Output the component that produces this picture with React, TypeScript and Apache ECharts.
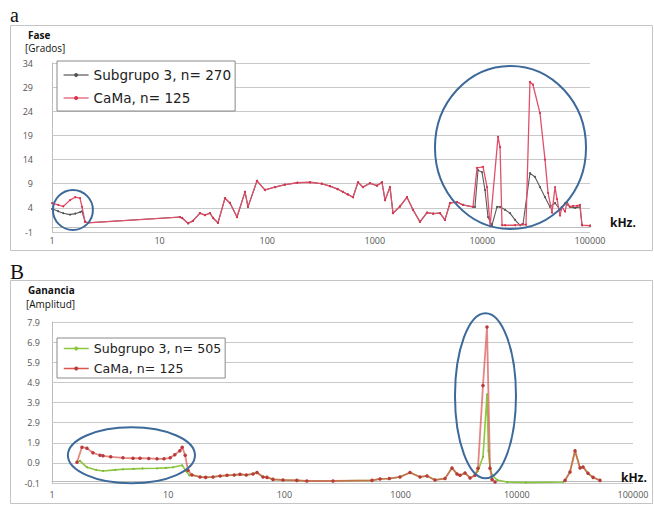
import React, { useEffect, useRef } from 'react';
import * as echarts from 'echarts';

// ---------- Panel a: Fase [Grados] ----------
const faseSubgrupoFreq = [1, 1.14, 1.27, 1.47, 1.64, 1.82, 1.9, 2.03, 2.16, 15.5, 16.2, 18.4, 20.4, 23.7, 26.4, 29.4, 31.4, 34.9, 40.5, 45.1, 52.4, 62.2, 66.3, 80.4, 95.4, 118, 146, 190, 250, 320, 384, 450, 506, 560, 627, 698, 777, 902, 1047, 1166, 1245, 1384, 1476, 1714, 1991, 2265, 2631, 3056, 3476, 4037, 4488, 5000, 5808, 6607, 8180, 8532, 9100, 9910, 10570, 11270, 12270, 13680, 14590, 16220, 18060, 20090, 22340, 23840, 27670, 30800, 34280, 38190, 42460, 47320, 52610, 58610, 65160, 72610, 80720, 84300, 100000];
const faseSubgrupoVal = [3.8, 3.3, 2.9, 2.6, 2.8, 3.1, 3.3, 1.1, 0.9, 2.1, 1.9, 0.8, 1.3, 2.9, 2.5, 2.9, 1.9, 0.9, 6.0, 5.0, 2.1, 7.3, 4.2, 9.6, 7.7, 8.3, 8.8, 9.2, 9.3, 9.0, 8.5, 7.9, 7.3, 6.8, 6.2, 9.3, 8.3, 9.1, 8.6, 9.3, 5.6, 8.3, 2.9, 4.3, 6.2, 3.6, 1.1, 3.0, 2.8, 2.9, 1.5, 5.0, 5.2, 4.6, 4.2, 4.2, 11.8, 11.4, 7.7, 2.1, 0.4, 4.2, 4.2, 3.6, 2.9, 1.5, 0.4, 0.6, 11.2, 10.4, 8.3, 6.2, 4.2, 5.0, 3.6, 5.0, 4.2, 4.0, 4.2, 0.4, 0.3];

const faseCaMaFreq = [1, 1.14, 1.27, 1.47, 1.64, 1.82, 1.9, 2.03, 2.16, 15.5, 16.2, 18.4, 20.4, 23.7, 26.4, 29.4, 31.4, 34.9, 40.5, 45.1, 52.4, 62.2, 66.3, 80.4, 95.4, 118, 146, 190, 250, 320, 384, 450, 506, 560, 627, 698, 777, 902, 1047, 1166, 1245, 1384, 1476, 1714, 1991, 2265, 2631, 3056, 3476, 4037, 4488, 5000, 5808, 6607, 8180, 8913, 10139, 11050, 11780, 13970, 14590, 15220, 16220, 20090, 23330, 25410, 27670, 29510, 34280, 38190, 40740, 44370, 47320, 49350, 52610, 54950, 58610, 61110, 65160, 69500, 75700, 80720, 84300, 100000];
const faseCaMaVal = [5.0, 4.6, 4.3, 5.6, 6.2, 6.0, 4.2, 1.1, 0.9, 2.1, 1.9, 0.8, 1.3, 2.9, 2.5, 2.9, 1.9, 0.9, 6.0, 5.0, 2.1, 7.3, 4.2, 9.6, 7.7, 8.3, 8.8, 9.2, 9.3, 9.0, 8.5, 7.9, 7.3, 6.8, 6.2, 9.3, 8.3, 9.1, 8.6, 9.3, 5.6, 8.3, 2.9, 4.3, 6.2, 3.6, 1.1, 3.0, 2.8, 2.9, 1.5, 5.0, 5.2, 4.6, 4.2, 12.3, 12.5, 8.3, 0.2, 18.7, 16.6, 0.4, 0.4, 0.4, 0.6, 0.5, 30.1, 29.5, 23.6, 14.0, 7.1, 3.0, 8.3, 5.8, 2.4, 4.2, 3.2, 5.2, 4.2, 4.4, 4.4, 4.6, 0.4, 0.3];

// ---------- Panel B: Ganancia [Amplitud] ----------
const ganSubgrupoFreq = [1.64, 1.74, 2.0, 2.4, 2.75, 3.5, 4.08, 5, 6, 8.01, 9.5, 11, 13.2, 14.3, 15.2, 16.0, 18.8, 21, 24.3, 28, 32.1, 37, 41.5, 47, 53.7, 58.1, 65.4, 70.8, 79.8, 97.3, 128, 156, 262, 567, 665, 800, 988, 1205, 1469, 1687, 1977, 2410, 2769, 3058, 3243, 3583, 3958, 4365, 4634, 5117, 5540, 5700, 5880, 6120, 6761, 8240, 12000, 25000, 26000, 28700, 31700, 35000, 37150, 41000, 45300, 52000];
const ganSubgrupoVal = [0.93, 1.0, 0.68, 0.55, 0.5, 0.55, 0.58, 0.6, 0.62, 0.63, 0.65, 0.68, 0.78, 0.48, 0.28, 0.3, 0.2, 0.18, 0.2, 0.25, 0.28, 0.3, 0.33, 0.3, 0.35, 0.42, 0.2, 0.18, 0.08, 0.05, 0.03, 0.0, 0.0, 0.03, 0.1, 0.12, 0.2, 0.42, 0.2, 0.25, 0.05, 0.12, 0.65, 0.35, 0.28, 0.4, 0.15, 0.28, 0.5, 1.2, 4.3, 1.5, 0.7, 0.3, 0.05, -0.05, -0.08, -0.05, 0.03, 0.45, 1.5, 0.65, 0.7, 0.38, 0.18, 0.03];

const ganCaMaFreq = [1.64, 1.81, 2.0, 2.25, 2.59, 2.75, 3.2, 4.08, 4.98, 5.72, 6.8, 8.01, 9.2, 10.4, 11.4, 12.6, 13.2, 14.0, 14.8, 16.0, 18.8, 21, 24.3, 28, 32.1, 37, 41.5, 47, 53.7, 58.1, 65.4, 70.8, 79.8, 97.3, 128, 156, 262, 567, 665, 800, 988, 1205, 1469, 1687, 1977, 2410, 2769, 3058, 3243, 3583, 3958, 4365, 4634, 5117, 5540, 5880, 6120, 6500, 12000, 26000, 28700, 31700, 35000, 37150, 41000, 45300, 52000];
const ganCaMaVal: (number | null)[] = [0.93, 1.68, 1.63, 1.4, 1.28, 1.25, 1.2, 1.15, 1.13, 1.13, 1.12, 1.1, 1.1, 1.15, 1.3, 1.5, 1.68, 1.28, 0.53, 0.3, 0.2, 0.18, 0.2, 0.25, 0.28, 0.3, 0.33, 0.3, 0.35, 0.42, 0.2, 0.18, 0.08, 0.05, 0.03, 0.0, 0.0, 0.03, 0.1, 0.12, 0.2, 0.42, 0.2, 0.25, 0.05, 0.12, 0.65, 0.35, 0.28, 0.4, 0.15, 0.28, 0.63, 4.75, 7.65, 0.63, 0.08, -0.05, null, 0.03, 0.45, 1.5, 0.65, 0.7, 0.38, 0.18, 0.03];

const xTickLabels = ['1', '10', '100', '1000', '10000', '100000'];

// Annotation ellipses given by their data-space bounding boxes [fMin, fMax, vMin, vMax]
const annotations = [
  { grid: 0, box: [1.02, 2.4, -0.59, 7.7] },
  { grid: 0, box: [3625, 91830, -0.38, 33.4] },
  { grid: 1, box: [1.37, 17.0, -0.115, 2.67] },
  { grid: 1, box: [2938, 9840, 0.13, 8.34] },
];

const pairs = (xs: number[], ys: (number | null)[]) => xs.map((x, i) => [x, ys[i]]);

const labelFont = 'Open Sans';
const legendFont = 'DejaVu Sans';

export default function App() {
  const ref = useRef<HTMLDivElement>(null);
  useEffect(() => {
    if (!ref.current) return;
    const chart = echarts.init(ref.current, null, { renderer: 'svg' });
    const xAxisBase = {
      type: 'log' as const,
      logBase: 10,
      min: 1,
      max: 100000,
      axisLine: { show: true, lineStyle: { color: '#bdbdbd', width: 1 } },
      axisTick: { show: false },
      splitLine: { show: false },
      axisLabel: {
        fontSize: 9,
        fontFamily: labelFont,
        color: '#555',
        formatter: (v: number) => {
          const idx = Math.round(Math.log10(v));
          return xTickLabels[idx] ?? String(Math.round(v));
        },
      },
    };
    const yAxisBase = {
      type: 'value' as const,
      axisLine: { show: true, lineStyle: { color: '#bdbdbd', width: 1 } },
      axisTick: { show: false },
      splitLine: { show: true, lineStyle: { color: '#c9c9c9', width: 1 } },
    };
    chart.setOption({
      animation: false,
      backgroundColor: '#ffffff',
      grid: [
        { left: 52, top: 63, width: 538, height: 169 },
        { left: 52, top: 322, width: 581, height: 161 },
      ],
      xAxis: [
        { ...xAxisBase, gridIndex: 0, axisLabel: { ...xAxisBase.axisLabel, margin: 4 } },
        { ...xAxisBase, gridIndex: 1, axisLabel: { ...xAxisBase.axisLabel, margin: 7 } },
      ],
      yAxis: [
        {
          ...yAxisBase,
          gridIndex: 0,
          min: -1,
          max: 34,
          interval: 5,
          axisLabel: { fontSize: 9, fontFamily: labelFont, color: '#555', margin: 19 },
        },
        {
          ...yAxisBase,
          gridIndex: 1,
          min: -0.1,
          max: 7.9,
          interval: 1,
          axisLabel: {
            fontSize: 9,
            fontFamily: labelFont,
            color: '#555',
            margin: 12,
            formatter: (v: number) => v.toFixed(1),
          },
        },
      ],
      legend: [
        {
          left: 57,
          top: 61,
          orient: 'vertical',
          padding: [7, 4, 6, 6],
          itemGap: 9,
          itemWidth: 25,
          itemHeight: 5,
          borderColor: '#8a8a8a',
          borderWidth: 1,
          backgroundColor: '#ffffff',
          textStyle: { fontFamily: legendFont, fontSize: 13.6, color: '#222' },
          data: [
            { name: 'Subgrupo 3, n= 270', itemStyle: { color: '#555' }, lineStyle: { color: '#555', width: 1.2 } },
            { name: 'CaMa, n= 125', itemStyle: { color: '#d8324a' }, lineStyle: { color: '#e0506a', width: 1.2 } },
          ],
          selectedMode: false,
        },
        {
          left: 57,
          top: 338,
          orient: 'vertical',
          padding: [4, 4, 3, 6],
          itemGap: 7,
          itemWidth: 25,
          itemHeight: 5,
          borderColor: '#8a8a8a',
          borderWidth: 1,
          backgroundColor: '#ffffff',
          textStyle: { fontFamily: legendFont, fontSize: 12.6, color: '#222' },
          data: [
            { name: 'Subgrupo 3, n= 505', itemStyle: { color: '#8cc63f' }, lineStyle: { color: '#8cc63f', width: 1.5 } },
            { name: 'CaMa, n= 125', itemStyle: { color: '#b83a3a' }, lineStyle: { color: '#d9534f', width: 1.5 } },
          ],
          selectedMode: false,
        },
      ],
      series: [
        {
          name: 'Subgrupo 3, n= 270',
          type: 'line',
          xAxisIndex: 0,
          yAxisIndex: 0,
          data: pairs(faseSubgrupoFreq, faseSubgrupoVal),
          symbol: 'circle',
          symbolSize: 2,
          itemStyle: { color: '#555' },
          lineStyle: { color: '#5a5a5a', width: 1.1 },
          z: 2,
        },
        {
          name: 'CaMa, n= 125',
          type: 'line',
          xAxisIndex: 0,
          yAxisIndex: 0,
          data: pairs(faseCaMaFreq, faseCaMaVal),
          symbol: 'circle',
          symbolSize: 2,
          itemStyle: { color: '#d8324a' },
          lineStyle: { color: '#e0506a', width: 1.3 },
          z: 3,
        },
        {
          name: 'Subgrupo 3, n= 505',
          type: 'line',
          xAxisIndex: 1,
          yAxisIndex: 1,
          data: pairs(ganSubgrupoFreq, ganSubgrupoVal),
          symbol: 'circle',
          symbolSize: 2,
          itemStyle: { color: '#7db83a' },
          lineStyle: { color: '#8cc63f', width: 1.6 },
          z: 2,
        },
        {
          name: 'CaMa, n= 125',
          type: 'line',
          xAxisIndex: 1,
          yAxisIndex: 1,
          data: pairs(ganCaMaFreq, ganCaMaVal),
          connectNulls: false,
          symbol: 'circle',
          symbolSize: 3.5,
          itemStyle: { color: '#b83a3a' },
          lineStyle: { color: '#d9534f', width: 1.8, opacity: 0.7 },
          z: 3,
        },
      ],
    });

    const ellipses = annotations.map((a) => {
      const p1 = chart.convertToPixel({ gridIndex: a.grid }, [a.box[0], a.box[2]]) as number[];
      const p2 = chart.convertToPixel({ gridIndex: a.grid }, [a.box[1], a.box[3]]) as number[];
      return {
        type: 'ellipse',
        z: 10,
        shape: {
          cx: (p1[0] + p2[0]) / 2,
          cy: (p1[1] + p2[1]) / 2,
          rx: Math.abs(p2[0] - p1[0]) / 2,
          ry: Math.abs(p2[1] - p1[1]) / 2,
        },
        style: { fill: 'none', stroke: '#3d6a9a', lineWidth: 2 },
      };
    });

    const txt = (text: string, x: number, y: number, font: any) => ({
      type: 'text',
      x,
      y,
      z: 11,
      style: { text, fill: '#111', verticalAlign: 'middle', align: 'left', ...font },
    });

    chart.setOption({
      graphic: {
        elements: [
          { type: 'rect', z: -1, shape: { x: 10.5, y: 25.5, width: 642, height: 225 }, style: { fill: 'none', stroke: '#c4c4c4', lineWidth: 1 } },
          { type: 'rect', z: -1, shape: { x: 10.5, y: 280.5, width: 642, height: 223 }, style: { fill: 'none', stroke: '#c4c4c4', lineWidth: 1 } },
          txt('a', 10, 15, { fontFamily: 'Liberation Serif', fontSize: 20 }),
          txt('B', 10, 272, { fontFamily: 'Liberation Serif', fontSize: 21 }),
          txt('Fase', 28, 35, { fontFamily: labelFont, fontSize: 10, fontWeight: 'bold' }),
          txt('[Grados]', 25, 48, { fontFamily: labelFont, fontSize: 10 }),
          txt('Ganancia', 28, 290, { fontFamily: labelFont, fontSize: 10, fontWeight: 'bold' }),
          txt('[Amplitud]', 26, 304, { fontFamily: labelFont, fontSize: 10 }),
          txt('kHz.', 610, 222, { fontFamily: labelFont, fontSize: 12, fontWeight: 'bold' }),
          txt('kHz.', 621, 477, { fontFamily: labelFont, fontSize: 12, fontWeight: 'bold' }),
          ...ellipses,
        ],
      },
    });

    return () => chart.dispose();
  }, []);

  return (
    <div
      ref={ref}
      style={{ position: 'fixed', left: 0, top: 0, width: 654, height: 506, background: '#fff' }}
    />
  );
}
